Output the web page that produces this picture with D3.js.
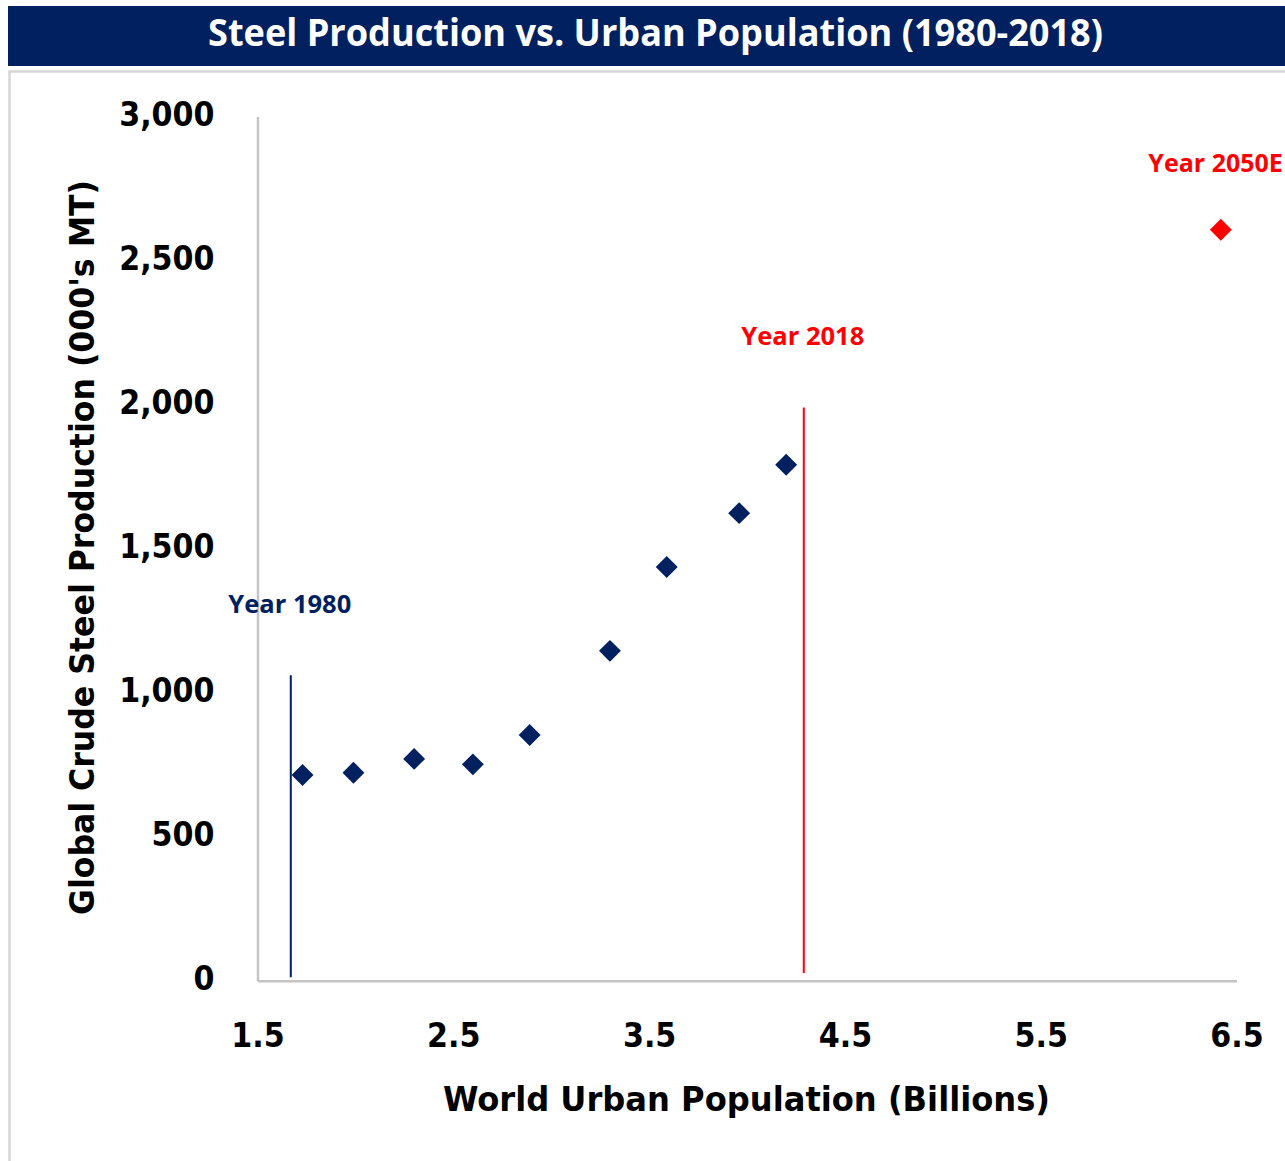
<!DOCTYPE html>
<html>
<head>
<meta charset="utf-8">
<script src="https://cdn.jsdelivr.net/npm/d3@7"></script>
<style>
  html, body { margin: 0; padding: 0; background: #ffffff; }
  svg { display: block; }
</style>
</head>
<body>
<svg id="chart" width="1285" height="1161"></svg>
<script>
// Historical observations (1980 → 2018): world urban population vs. crude steel output
const urbanPop    = [1.73, 1.99, 2.30, 2.60, 2.89, 3.30, 3.59, 3.96, 4.20];
const steelOutput = [714, 722, 770, 751, 853, 1145, 1436, 1623, 1791];

// 2050 estimate
const forecastPop   = [6.42];
const forecastSteel = [2607];
const forecastLabel = ["Year 2050E"];

// Reference markers for the start and end of the historical range
const markerLabels = ["Year 1980", "Year 2018"];
const markerPop    = [1.67, 4.29];
const markerLow    = [12, 27];
const markerHigh   = [1060, 1990];

// Axis ticks
const xTicks = [1.5, 2.5, 3.5, 4.5, 5.5, 6.5];
const yTicks = [0, 500, 1000, 1500, 2000, 2500, 3000];

const titleText  = "Steel Production vs. Urban Population (1980-2018)";
const xAxisTitle = "World Urban Population (Billions)";
const yAxisTitle = "Global Crude Steel Production (000's MT)";

const NAVY = "#002060";
const RED = "#ff0000";
const AXIS_GREY = "#c4c4c4";
const tickFont = "'DejaVu Sans Condensed', 'DejaVu Sans', sans-serif";
const labelFont = "'Open Sans', 'Noto Sans', sans-serif";

const svg = d3.select("#chart");

// Title banner
svg.append("rect")
  .attr("x", 8).attr("y", 6).attr("width", 1277).attr("height", 60)
  .attr("fill", NAVY);
svg.append("text")
  .attr("x", 655.5).attr("y", 46)
  .attr("text-anchor", "middle")
  .attr("fill", "#ffffff")
  .attr("font-family", labelFont)
  .attr("font-weight", 700)
  .attr("font-size", 38)
  .attr("textLength", 895)
  .attr("lengthAdjust", "spacingAndGlyphs")
  .text(titleText);

// Panel frame below the banner
svg.append("path")
  .attr("d", "M9.5,1161 V71.5 H1285")
  .attr("fill", "none")
  .attr("stroke", "#d6d6d6")
  .attr("stroke-width", 2.5);

// Scales
const x = d3.scaleLinear().domain([1.5, 6.5]).range([257.5, 1236.5]);
const y = d3.scaleLinear().domain([0, 3000]).range([980.7, 116.5]);

// Axes
const xAxis = d3.axisBottom(x).tickValues(xTicks).tickFormat(d3.format(".1f")).tickSize(0).tickPadding(42);
const yAxis = d3.axisLeft(y).tickValues(yTicks).tickFormat(d3.format(",")).tickSize(0).tickPadding(43);

const gx = svg.append("g").attr("transform", `translate(0,${y(0)})`).call(xAxis);
const gy = svg.append("g").attr("transform", `translate(${x(1.5)},0)`).call(yAxis);

[gx, gy].forEach(g => {
  g.select(".domain").attr("stroke", AXIS_GREY).attr("stroke-width", 2.5);
  g.selectAll(".tick text")
    .attr("fill", "#000000")
    .attr("font-family", tickFont)
    .attr("font-weight", 700)
    .attr("font-size", 33.5);
});
gy.selectAll(".tick text").attr("dy", "0.27em");
gx.selectAll(".tick text").attr("dy", "0.72em");

// Axis titles
svg.append("text")
  .attr("x", 746.5).attr("y", 1111)
  .attr("text-anchor", "middle")
  .attr("font-family", tickFont)
  .attr("font-weight", 700)
  .attr("font-size", 33)
  .attr("fill", "#000000")
  .attr("textLength", 607)
  .attr("lengthAdjust", "spacingAndGlyphs")
  .text(xAxisTitle);

svg.append("text")
  .attr("transform", "translate(94,547.5) rotate(-90)")
  .attr("text-anchor", "middle")
  .attr("font-family", tickFont)
  .attr("font-weight", 700)
  .attr("font-size", 34)
  .attr("fill", "#000000")
  .attr("textLength", 735)
  .attr("lengthAdjust", "spacingAndGlyphs")
  .text(yAxisTitle);

// Marker lines with their labels
const markers = markerLabels.map((label, i) => ({
  label, pop: markerPop[i], low: markerLow[i], high: markerHigh[i],
  color: i === 0 ? NAVY : RED
}));

svg.append("g").selectAll("line")
  .data(markers)
  .join("line")
  .attr("x1", d => x(d.pop)).attr("x2", d => x(d.pop))
  .attr("y1", d => y(d.low)).attr("y2", d => y(d.high))
  .attr("stroke", d => d.color)
  .attr("stroke-width", 2);

svg.append("g").selectAll("text")
  .data(markers)
  .join("text")
  .attr("x", d => x(d.pop) - 1)
  .attr("y", d => y(d.high) - 62)
  .attr("text-anchor", "middle")
  .attr("fill", d => d.color)
  .attr("font-family", labelFont)
  .attr("font-weight", 700)
  .attr("font-size", 25.5)
  .text(d => d.label);

// Diamond markers
const diamond = d3.symbol().type(d3.symbolSquare).size(240);

const history = urbanPop.map((p, i) => ({ pop: p, steel: steelOutput[i] }));
svg.append("g").selectAll("path")
  .data(history)
  .join("path")
  .attr("d", diamond)
  .attr("transform", d => `translate(${x(d.pop)},${y(d.steel)}) rotate(45)`)
  .attr("fill", NAVY);

const forecast = forecastPop.map((p, i) => ({ pop: p, steel: forecastSteel[i], label: forecastLabel[i] }));
svg.append("g").selectAll("path")
  .data(forecast)
  .join("path")
  .attr("d", diamond)
  .attr("transform", d => `translate(${x(d.pop)},${y(d.steel)}) rotate(45)`)
  .attr("fill", RED);

// Forecast label, kept just inside the right edge
svg.append("g").selectAll("text")
  .data(forecast)
  .join("text")
  .attr("x", d => x(d.pop) + 62)
  .attr("y", d => y(d.steel) - 58)
  .attr("text-anchor", "end")
  .attr("fill", RED)
  .attr("font-family", labelFont)
  .attr("font-weight", 700)
  .attr("font-size", 25)
  .text(d => d.label);
</script>
</body>
</html>
